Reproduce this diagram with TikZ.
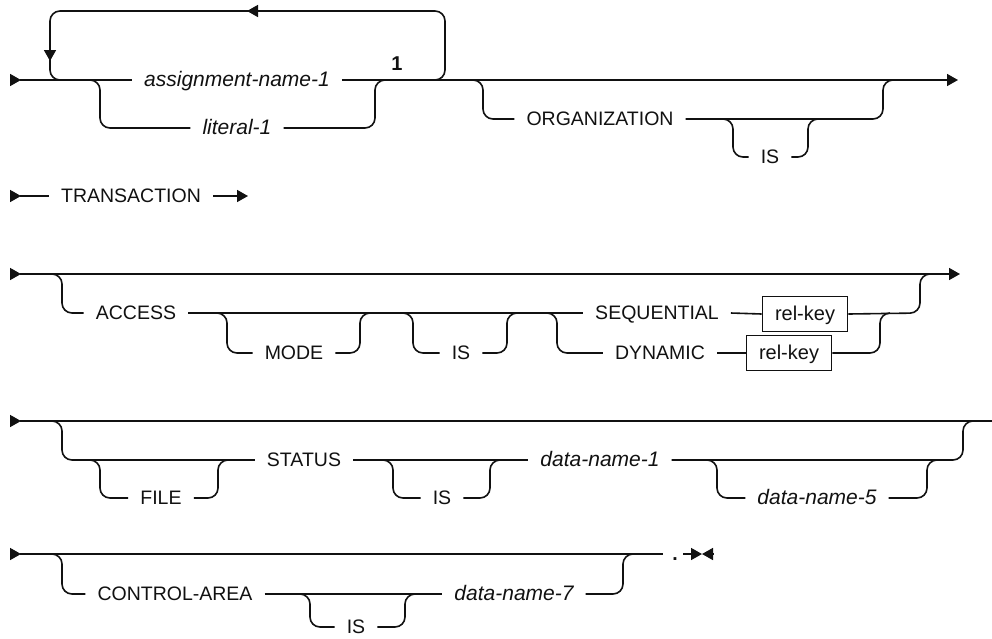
\documentclass[tikz,border=0pt]{standalone}
\usepackage{fontspec}
\newfontfamily\railsans{Liberation Sans}
\usetikzlibrary{arrows.meta}
\definecolor{Ink}{HTML}{111111}
\tikzset{
  rail/.style={draw=Ink,line width=1.6pt,rounded corners=10pt},
  railend/.style={draw=Ink,line width=1.6pt,-{Triangle[length=11pt,width=12pt]}},
  kwbox/.style={font=\railsans\fontsize{19.5pt}{22pt}\selectfont,text=Ink,inner xsep=12pt,inner ysep=2pt,text height=13pt,text depth=0pt},
  varbox/.style={kwbox,font=\railsans\itshape\fontsize{21pt}{24pt}\selectfont},
  keybox/.style={draw=Ink,line width=1.6pt,minimum width=85pt,minimum height=35pt,inner sep=0pt,font=\railsans\fontsize{20pt}{24pt}\selectfont,text=Ink,text height=13pt,text depth=0pt},
  notebox/.style={font=\railsans\bfseries\fontsize{20pt}{22pt}\selectfont,text=Ink,inner sep=0pt},
  dotbox/.style={font=\railsans\bfseries\fontsize{19.5pt}{22pt}\selectfont,text=Ink,inner sep=0pt}
}
\begin{document}
\begin{tikzpicture}[x=1pt,y=-1pt]
  \useasboundingbox (0,0) rectangle (992,638);
  % row 1: assignment-name / literal, ORGANIZATION
  \node[varbox] (assign) at (237,80) {assignment-name-1};
  \node[varbox] (lit1) at (237,128) {literal-1};
  \node[notebox] (note1) at (397,64) {1};
  \node[kwbox] (org) at (600,119) {ORGANIZATION};
  \node[kwbox] (is1) at (770,157) {IS};
  \draw[railend] (10,80) -- (21,80);
  \draw[rail] (20,80) -- (assign.west);
  \draw[railend] (assign.east) -- (958,80);
  \draw[rail] (430,80) -- (445,80) -- (445,11) -- (50,11) -- (50,80) -- (70,80);
  \draw[railend] (262,11) -- (247,11);
  \draw[railend] (50,45) -- (50,61);
  \draw[rail] (90,80) -- (100,80) -- (100,128) -- (lit1.west);
  \draw[rail] (lit1.east) -- (375,128) -- (375,80) -- (385,80);
  \draw[rail] (473,80) -- (483,80) -- (483,119) -- (org.west);
  \draw[rail] (org.east) -- (883,119) -- (883,80) -- (893,80);
  \draw[rail] (723,119) -- (733,119) -- (733,157) -- (is1.west);
  \draw[rail] (is1.east) -- (808,157) -- (808,119) -- (818,119);

  % row 2: TRANSACTION
  \node[kwbox] (trans) at (131,196) {TRANSACTION};
  \draw[railend] (10,196) -- (21,196);
  \draw[rail] (20,196) -- (trans.west);
  \draw[railend] (trans.east) -- (248,196);

  % row 3: ACCESS MODE
  \node[kwbox] (access) at (136,313) {ACCESS};
  \node[kwbox] (mode) at (294,353) {MODE};
  \node[kwbox] (is3) at (461,353) {IS};
  \node[kwbox] (seq) at (657,313) {SEQUENTIAL};
  \node[kwbox] (dyn) at (660,353) {DYNAMIC};
  \node[keybox] (relkey1) at (805,314) {rel-key};
  \node[keybox] (relkey2) at (789,353) {rel-key};
  \draw[railend] (10,274) -- (21,274);
  \draw[railend] (20,274) -- (960,274);
  \draw[rail] (52,274) -- (62,274) -- (62,313) -- (access.west);
  \draw[rail] (access.east) -- (seq.west);
  \draw[rail] (215,313) -- (227,313) -- (227,353) -- (mode.west);
  \draw[rail] (mode.east) -- (360,353) -- (360,313) -- (370,313);
  \draw[rail] (403,313) -- (413,313) -- (413,353) -- (is3.west);
  \draw[rail] (is3.east) -- (507,353) -- (507,313) -- (517,313);
  \draw[rail] (547,313) -- (557,313) -- (557,353) -- (dyn.west);
  \draw[rail] (seq.east) -- (relkey1.west);
  \draw[rail] (dyn.east) -- (relkey2.west);
  \draw[rail] (relkey2.east) -- (880,353) -- (880,313) -- (890,313);
  \draw[rail] (relkey1.east) -- (920,313) -- (920,274) -- (930,274);

  % row 4: FILE STATUS
  \node[kwbox] (file) at (161,498) {FILE};
  \node[kwbox] (status) at (304,460) {STATUS};
  \node[kwbox] (is4) at (442,498) {IS};
  \node[varbox] (dn1) at (600,460) {data-name-1};
  \node[varbox] (dn5) at (817,498) {data-name-5};
  \draw[railend] (10,421) -- (21,421);
  \draw[rail] (20,421) -- (992,421);
  \draw[rail] (52,421) -- (62,421) -- (62,460) -- (status.west);
  \draw[rail] (90,460) -- (100,460) -- (100,498) -- (file.west);
  \draw[rail] (file.east) -- (218,498) -- (218,460) -- (228,460);
  \draw[rail] (status.east) -- (dn1.west);
  \draw[rail] (383,460) -- (393,460) -- (393,498) -- (is4.west);
  \draw[rail] (is4.east) -- (490,498) -- (490,460) -- (500,460);
  \draw[rail] (dn1.east) -- (963,460) -- (963,421) -- (973,421);
  \draw[rail] (707,460) -- (717,460) -- (717,498) -- (dn5.west);
  \draw[rail] (dn5.east) -- (927,498) -- (927,460) -- (937,460);

  % row 5: CONTROL-AREA
  \node[kwbox] (ctrl) at (175,594) {CONTROL-AREA};
  \node[kwbox] (is5) at (356,627) {IS};
  \node[varbox] (dn7) at (514,594) {data-name-7};
  \node[dotbox] (stop) at (675,559) {.};
  \draw[railend] (10,554) -- (21,554);
  \draw[rail] (20,554) -- (663,554);
  \draw[rail] (52,554) -- (62,554) -- (62,594) -- (ctrl.west);
  \draw[rail] (ctrl.east) -- (dn7.west);
  \draw[rail] (300,594) -- (310,594) -- (310,627) -- (is5.west);
  \draw[rail] (is5.east) -- (405,627) -- (405,594) -- (415,594);
  \draw[rail] (dn7.east) -- (623,594) -- (623,554) -- (633,554);
  \draw[railend] (683,554) -- (702,554);
  \draw[railend] (713,554) -- (702,554);
\end{tikzpicture}
\end{document}
